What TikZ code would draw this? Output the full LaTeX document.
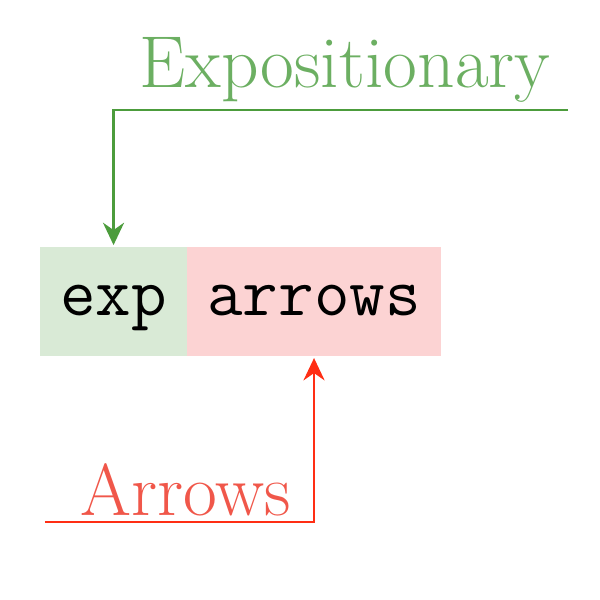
\documentclass[tikz,border=0pt]{standalone}
\usepackage{xcolor}
\usepackage{tikz}
\usetikzlibrary{arrows.meta,positioning}
\tikzset{>={Stealth[length=7pt,width=6.6pt,inset=2.3pt]}}
\definecolor{expBg}{HTML}{D9EAD6}
\definecolor{arrBg}{HTML}{FCD3D3}
\definecolor{expLn}{HTML}{4C9C3C}
\definecolor{expTx}{HTML}{6CAF62}
\definecolor{arrLn}{HTML}{FF2E14}
\definecolor{arrTx}{HTML}{F0574A}
\tikzset{
  part/.style={font=\fontsize{21.6}{26}\selectfont\ttfamily,inner sep=0pt,outer sep=0pt,
    minimum height=1.2cm,text height=13pt,text depth=4.4pt},
  tag/.style={font=\fontsize{23}{28}\selectfont,inner sep=0pt,anchor=base},
  lead/.style={line width=0.8pt,->,shorten >=0.6pt}
}

\begin{document}
\begin{tikzpicture}
\useasboundingbox (0,0) rectangle (6.6,-6.6);
\node[part,fill=expBg,minimum width=1.617cm] (exp) at (1.249,-3.317) {exp};
\node[part,fill=arrBg,minimum width=2.794cm,right=0pt of exp] (arr) {arrows};
\node[tag,text=expTx] (expotag) at (3.795,-0.957) {Expositionary};
\node[tag,text=arrTx] (arrtag) at (2.046,-5.666) {Arrows};
\coordinate (expoend) at (6.249,-1.21);
\coordinate (arrend) at (0.495,-5.743);
\draw[lead,expLn] (expoend) -| (exp.north);
\draw[lead,arrLn] (arrend) -| (arr.south);
\end{tikzpicture}
\end{document}
